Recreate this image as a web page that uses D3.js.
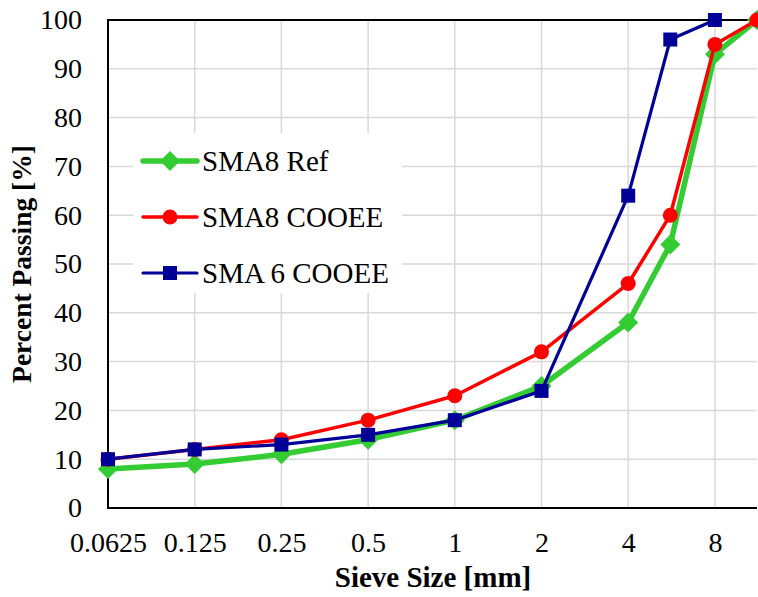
<!DOCTYPE html>
<html lang="en">
<head>
  <meta charset="UTF-8">
  <title>Sieve Curves</title>
  <style>
    body { margin: 0; padding: 0; background: #fff; }
    svg { font-family: 'Liberation Serif', 'Times New Roman', serif; }
  </style>
</head>
<body>

<script src="https://d3js.org/d3.v7.min.js"></script>

<script>
  // Sieve sizes [mm] and passing values [%]
  const sieves = [0.0625, 0.125, 0.25, 0.5, 1, 2, 4, 5.6, 8, 11.2];
  const sma8Ref = [8, 9, 11, 14, 18, 25, 38, 54, 93, 100];
  const sma8Cooee = [10, 12, 14, 18, 23, 32, 46, 60, 95, 100];
  const sma6Cooee = [10, 12, 13, 15, 18, 24, 64, 96, 100];
  const xTicks = [0.0625, 0.125, 0.25, 0.5, 1, 2, 4, 8];
  const yTicks = [0, 10, 20, 30, 40, 50, 60, 70, 80, 90, 100];

  const width = 758, height = 597;
  const margin = { top: 20, right: 1, bottom: 89, left: 108 };
  const fontSize = 28;

  const svg = d3.select('body').append('svg')
    .attr('width', width)
    .attr('height', height);

  const x = d3.scaleLog().base(2)
    .domain([0.0625, 11.2])
    .range([margin.left, width - margin.right]);

  const y = d3.scaleLinear()
    .domain([0, 100])
    .range([height - margin.bottom, margin.top]);

  // Grid lines
  svg.append('g').selectAll('line.h')
    .data(yTicks)
    .enter().append('line')
    .attr('x1', margin.left).attr('x2', width - margin.right)
    .attr('y1', d => y(d)).attr('y2', d => y(d))
    .attr('stroke', '#d9d9d9').attr('stroke-width', 1.5);

  svg.append('g').selectAll('line.v')
    .data(xTicks)
    .enter().append('line')
    .attr('x1', d => x(d)).attr('x2', d => x(d))
    .attr('y1', margin.top).attr('y2', height - margin.bottom)
    .attr('stroke', '#d9d9d9').attr('stroke-width', 1.5);

  // Axes (labels only)
  const yAxis = svg.append('g')
    .attr('transform', `translate(${margin.left},0)`)
    .call(d3.axisLeft(y).tickValues(yTicks).tickSize(0).tickPadding(26));
  yAxis.select('.domain').remove();
  yAxis.attr('font-size', fontSize).attr('font-family', "'Liberation Serif', serif");
  yAxis.selectAll('text').attr('fill', '#000');

  const xAxis = svg.append('g')
    .attr('transform', `translate(0,${height - margin.bottom})`)
    .call(d3.axisBottom(x).tickValues(xTicks).tickFormat(d => String(d)).tickSize(0).tickPadding(24));
  xAxis.select('.domain').remove();
  xAxis.attr('font-size', fontSize).attr('font-family', "'Liberation Serif', serif");
  xAxis.selectAll('text').attr('fill', '#000');

  // Plot border: top, left, bottom
  svg.append('path')
    .attr('d', `M${width - margin.right},${margin.top}H${margin.left}V${height - margin.bottom}H${width - margin.right}`)
    .attr('fill', 'none').attr('stroke', '#000').attr('stroke-width', 2);

  // Axis titles
  svg.append('text')
    .attr('transform', `translate(31,264) rotate(-90)`)
    .attr('text-anchor', 'middle')
    .attr('font-size', 27.5).attr('font-weight', 'bold')
    .text('Percent Passing [%]');

  svg.append('text')
    .attr('x', 433)
    .attr('y', 587)
    .attr('text-anchor', 'middle')
    .attr('font-size', 29).attr('font-weight', 'bold')
    .text('Sieve Size [mm]');

  const series = [
    { name: 'SMA8 Ref', values: sma8Ref, color: '#33cc33', width: 5.5, marker: 'diamond' },
    { name: 'SMA8 COOEE', values: sma8Cooee, color: '#ff0000', width: 3.5, marker: 'circle' },
    { name: 'SMA 6 COOEE', values: sma6Cooee, color: '#000099', width: 3.2, marker: 'square' }
  ];

  const line = d3.line().x(d => x(d[0])).y(d => y(d[1]));

  function drawMarker(g, type, color) {
    if (type === 'diamond') {
      g.append('path').attr('d', 'M0,-10L10,0L0,10L-10,0Z').attr('fill', color);
    } else if (type === 'circle') {
      g.append('circle').attr('r', 7.5).attr('fill', color);
    } else {
      g.append('rect').attr('x', -7).attr('y', -7).attr('width', 14).attr('height', 14).attr('fill', color);
    }
  }

  series.forEach(s => {
    const pts = s.values.map((v, i) => [sieves[i], v]);
    svg.append('path')
      .datum(pts)
      .attr('d', line)
      .attr('fill', 'none')
      .attr('stroke', s.color)
      .attr('stroke-width', s.width)
      .attr('stroke-linejoin', 'round');

    svg.append('g').selectAll('g')
      .data(pts)
      .enter().append('g')
      .attr('transform', d => `translate(${x(d[0])},${y(d[1])})`)
      .each(function () { drawMarker(d3.select(this), s.marker, s.color); });
  });

  // Legend
  const legend = svg.append('g');
  legend.append('rect')
    .attr('x', 133).attr('y', 133).attr('width', 269).attr('height', 160)
    .attr('fill', '#fff');

  series.forEach((s, i) => {
    const ly = 161 + i * 56;
    legend.append('line')
      .attr('x1', 143).attr('x2', 197)
      .attr('y1', ly).attr('y2', ly)
      .attr('stroke', s.color).attr('stroke-width', s.width)
      .attr('stroke-linecap', 'round');
    const m = legend.append('g').attr('transform', `translate(170,${ly})`);
    drawMarker(m, s.marker, s.color);
    legend.append('text')
      .attr('x', 202).attr('y', ly + 10)
      .attr('font-size', 29)
      .text(s.name);
  });
</script>

</body>
</html>
